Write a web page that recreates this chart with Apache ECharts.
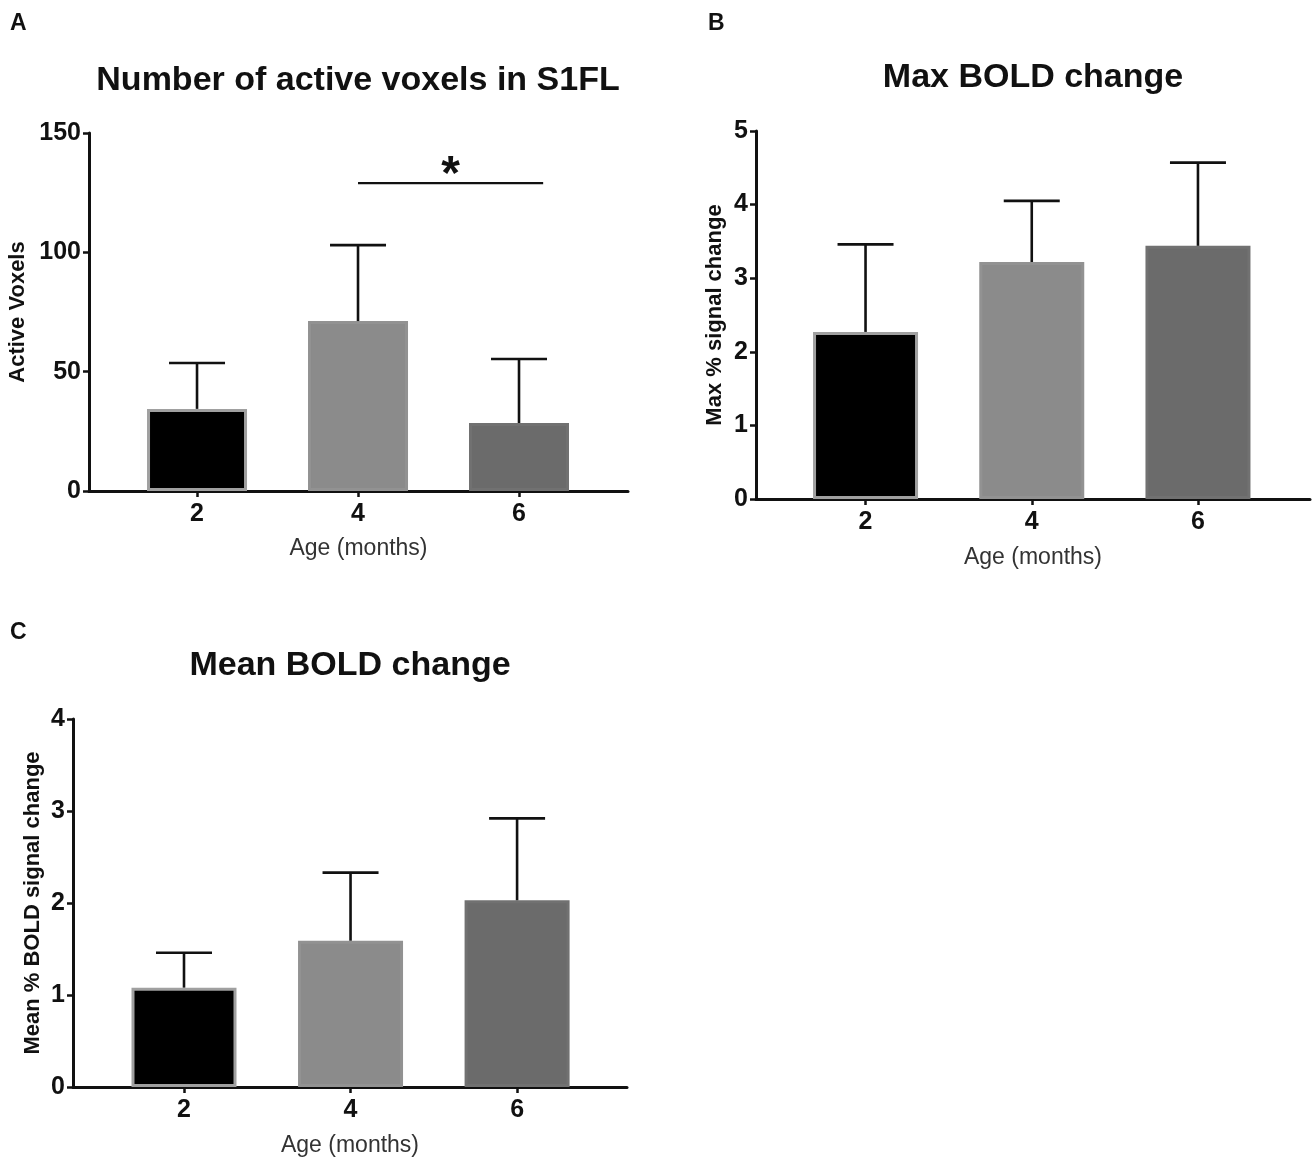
<!DOCTYPE html>
<html>
<head>
<meta charset="utf-8">
<script src="https://cdn.jsdelivr.net/npm/echarts@6/dist/echarts.min.js"></script>
<style>
  html, body { margin: 0; padding: 0; background: #fff; }
  #chart { width: 1316px; height: 1170px; }
</style>
</head>
<body>
<div id="chart"></div>
<script>
// ---------- data ----------
const ages = [2, 4, 6];
const ageTickLabels = ['2', '4', '6'];
const barColors = ['#000000', '#8b8b8b', '#6b6b6b'];
const barBorders = ['#a0a0a0', '#929292', '#717171'];

// Panel A: number of active voxels in S1FL
const voxelMean = [34.4, 71.2, 28.5];
const voxelErr  = [19.2, 31.8, 26.8];
const voxelTicks = [0, 50, 100, 150];

// Panel B: max BOLD change
const maxMean = [2.27, 3.22, 3.44];
const maxErr  = [1.19, 0.83, 1.13];
const maxTicks = [0, 1, 2, 3, 4, 5];

// Panel C: mean BOLD change
const meanMean = [1.08, 1.59, 2.03];
const meanErr  = [0.38, 0.74, 0.89];
const meanTicks = [0, 1, 2, 3, 4];

// significance bracket (panel A): between 4 and 6 months
const sigFrom = 4, sigTo = 6.3, sigY = 129, sigLabel = '*';

const titles = ['Number of active voxels in S1FL', 'Max BOLD change', 'Mean BOLD change'];
const yNames = ['Active Voxels', 'Max % signal change', 'Mean % BOLD signal change'];
const xName = 'Age (months)';
const panelLetters = ['A', 'B', 'C'];

// ---------- helpers ----------
const FONT = '"Liberation Sans", Arial, Helvetica, sans-serif';

function barData(means) {
  return ages.map((a, i) => ({
    value: [a, means[i]],
    itemStyle: { color: barColors[i], borderColor: barBorders[i], borderWidth: 3 }
  }));
}
function errData(means, errs) {
  return ages.map((a, i) => [a, means[i], errs[i]]);
}
function errRender(params, api) {
  const x = api.value(0), m = api.value(1), e = api.value(2);
  const p0 = api.coord([x, m]);
  const p1 = api.coord([x, m + e]);
  const hw = 28;
  return {
    type: 'group',
    children: [
      { type: 'line', shape: { x1: p0[0], y1: p0[1], x2: p1[0], y2: p1[1] }, style: { stroke: '#111', lineWidth: 2.6 } },
      { type: 'line', shape: { x1: p1[0] - hw, y1: p1[1], x2: p1[0] + hw, y2: p1[1] }, style: { stroke: '#111', lineWidth: 2.6 } }
    ]
  };
}
function sigRender(params, api) {
  const a = api.coord([api.value(0), api.value(2)]);
  const b = api.coord([api.value(1), api.value(2)]);
  return {
    type: 'group',
    children: [
      { type: 'line', shape: { x1: a[0], y1: a[1], x2: b[0], y2: b[1] }, style: { stroke: '#111', lineWidth: 2.4 } },
      { type: 'text', x: (a[0] + b[0]) / 2, y: a[1] - 7,
        style: { text: sigLabel, fill: '#111', font: 'bold 48px ' + FONT, align: 'center', verticalAlign: 'middle' } }
    ]
  };
}

function xAxisCfg(gridIndex, min, max, gap) {
  return {
    type: 'value', gridIndex, min, max,
    splitLine: { show: false },
    axisLine: { show: true, onZero: false, lineStyle: { color: '#111', width: 3 } },
    axisTick: { show: true, customValues: ages, length: 6, lineStyle: { color: '#111', width: 2.5 } },
    axisLabel: { customValues: ages, formatter: v => ageTickLabels[ages.indexOf(v)], margin: 11,
                 fontFamily: FONT, fontWeight: 'bold', fontSize: 25, color: '#111' },
    name: xName, nameLocation: 'middle', nameGap: gap,
    nameTextStyle: { fontFamily: FONT, fontSize: 23, color: '#333' }
  };
}
function yAxisCfg(gridIndex, ticks, name, gap) {
  return {
    type: 'value', gridIndex,
    min: ticks[0], max: ticks[ticks.length - 1], interval: ticks[1] - ticks[0],
    splitLine: { show: false },
    axisLine: { show: true, onZero: false, lineStyle: { color: '#111', width: 3 } },
    axisTick: { show: true, length: 6, lineStyle: { color: '#111', width: 2.5 } },
    axisLabel: { margin: 8, fontFamily: FONT, fontWeight: 'bold', fontSize: 25, color: '#111' },
    name, nameLocation: 'middle', nameGap: gap, nameRotate: 90,
    nameTextStyle: { fontFamily: FONT, fontWeight: 'bold', fontSize: 22, color: '#111' }
  };
}
function titleCfg(text, cx, top) {
  return { text, left: cx, top, textAlign: 'center', padding: 0,
           textStyle: { fontFamily: FONT, fontWeight: 'bold', fontSize: 34, color: '#111', lineHeight: 34 } };
}

const chart = echarts.init(document.getElementById('chart'), null, { renderer: 'canvas' });
chart.setOption({
  animation: false,
  backgroundColor: '#fff',
  title: [
    titleCfg(titles[0], 358, 64),
    titleCfg(titles[1], 1033, 61),
    titleCfg(titles[2], 350, 649),
    { text: panelLetters[0], left: 10, top: 12, padding: 0, textStyle: { fontFamily: FONT, fontWeight: 'bold', fontSize: 23, color: '#111' } },
    { text: panelLetters[1], left: 708, top: 12, padding: 0, textStyle: { fontFamily: FONT, fontWeight: 'bold', fontSize: 23, color: '#111' } },
    { text: panelLetters[2], left: 10, top: 621, padding: 0, textStyle: { fontFamily: FONT, fontWeight: 'bold', fontSize: 23, color: '#111' } }
  ],
  grid: [
    { left: 89, top: 133, width: 539, height: 358 },
    { left: 756, top: 131, width: 554, height: 368 },
    { left: 73, top: 719, width: 554, height: 368 }
  ],
  xAxis: [
    xAxisCfg(0, 0.658, 7.354, 46),
    xAxisCfg(1, 0.682, 7.348, 47),
    xAxisCfg(2, 0.667, 7.32, 47)
  ],
  yAxis: [
    yAxisCfg(0, voxelTicks, yNames[0], 60),
    yAxisCfg(1, maxTicks, yNames[1], 30),
    yAxisCfg(2, meanTicks, yNames[2], 29)
  ],
  series: [
    { type: 'bar', xAxisIndex: 0, yAxisIndex: 0, barWidth: 100, data: barData(voxelMean), z: 2 },
    { type: 'custom', xAxisIndex: 0, yAxisIndex: 0, renderItem: errRender, data: errData(voxelMean, voxelErr), z: 3 },
    { type: 'custom', xAxisIndex: 0, yAxisIndex: 0, renderItem: sigRender, data: [[sigFrom, sigTo, sigY]], z: 3 },
    { type: 'bar', xAxisIndex: 1, yAxisIndex: 1, barWidth: 105, data: barData(maxMean), z: 2 },
    { type: 'custom', xAxisIndex: 1, yAxisIndex: 1, renderItem: errRender, data: errData(maxMean, maxErr), z: 3 },
    { type: 'bar', xAxisIndex: 2, yAxisIndex: 2, barWidth: 105, data: barData(meanMean), z: 2 },
    { type: 'custom', xAxisIndex: 2, yAxisIndex: 2, renderItem: errRender, data: errData(meanMean, meanErr), z: 3 }
  ]
});
</script>
</body>
</html>
